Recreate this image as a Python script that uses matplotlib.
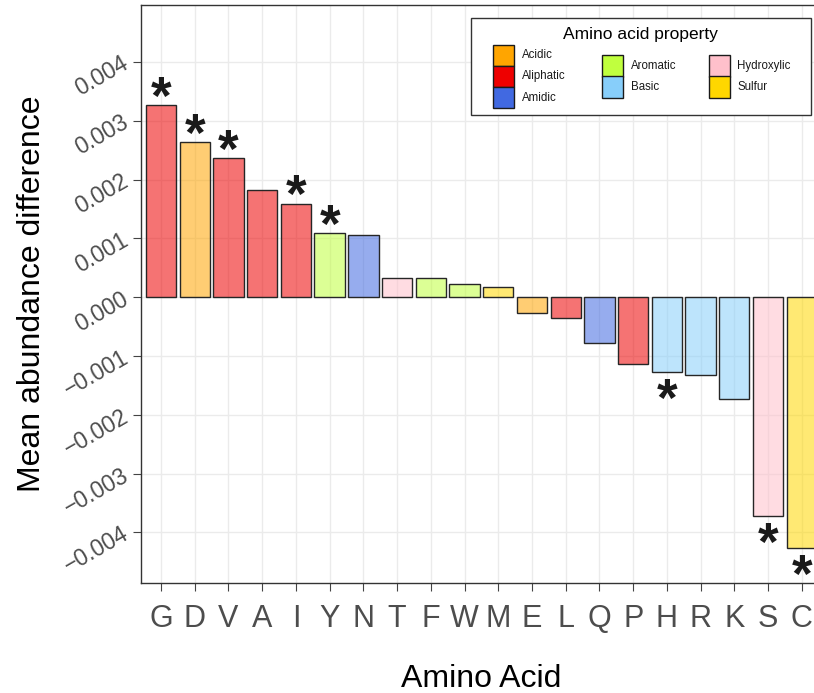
import matplotlib
matplotlib.use("Agg")
import matplotlib.pyplot as plt
from matplotlib.patches import Rectangle
from matplotlib.ticker import FixedLocator, FuncFormatter
from matplotlib.colors import to_rgba

# --- data -------------------------------------------------------------
amino_acids = ['G', 'D', 'V', 'A', 'I', 'Y', 'N', 'T', 'F', 'W',
               'M', 'E', 'L', 'Q', 'P', 'H', 'R', 'K', 'S', 'C']
mean_diff = [0.00327, 0.00264, 0.00236, 0.00182, 0.00159, 0.00109, 0.00106,
             0.00032, 0.00032, 0.00023, 0.00018, -0.00027, -0.00036, -0.00077,
             -0.00113, -0.00127, -0.00132, -0.00173, -0.00372, -0.00427]
aa_property = ['Aliphatic', 'Acidic', 'Aliphatic', 'Aliphatic', 'Aliphatic',
               'Aromatic', 'Amidic', 'Hydroxylic', 'Aromatic', 'Aromatic',
               'Sulfur', 'Acidic', 'Aliphatic', 'Amidic', 'Aliphatic',
               'Basic', 'Basic', 'Basic', 'Hydroxylic', 'Sulfur']
significant = [True, True, True, False, True, True, False, False, False, False,
               False, False, False, False, False, True, False, False, True, True]

properties = ['Acidic', 'Aliphatic', 'Amidic', 'Aromatic', 'Basic',
              'Hydroxylic', 'Sulfur']
property_colors = ['#FFA500', '#EE0000', '#4169E1', '#C0FF3E', '#87CEFA',
                   '#FFC0CB', '#FFD700']
y_ticks = [-0.004, -0.003, -0.002, -0.001, 0.0, 0.001, 0.002, 0.003, 0.004]

# --- figure -----------------------------------------------------------
W, H = 814, 693
fig = plt.figure(figsize=(W / 100, H / 100), dpi=100)
plt.rcParams['font.family'] = ['Liberation Sans', 'DejaVu Sans']

# panel runs slightly past the right edge of the canvas
left_px, right_px, top_px, bottom_px = 140.8, 822.0, 5.0, 583.0
ax = fig.add_axes([left_px / W, 1 - bottom_px / H,
                   (right_px - left_px) / W, (bottom_px - top_px) / H])

color_map = dict(zip(properties, property_colors))
x = list(range(1, len(amino_acids) + 1))
fill = [to_rgba(color_map[p], 0.55) for p in aa_property]

ax.bar(x, mean_diff, width=0.9, color=fill, edgecolor='#262626',
       linewidth=1.0, zorder=3)

# significance stars
star_size = 38
em_px = star_size * 100 / 72
for xi, v, sig in zip(x, mean_diff, significant):
    if not sig:
        continue
    if v >= 0:
        off = 16 - 0.465 * em_px
    else:
        off = -19.5 - 0.465 * em_px
    ax.annotate('*', xy=(xi, v), xytext=(0, off), textcoords='offset pixels',
                ha='center', va='baseline', fontsize=star_size,
                fontweight='bold', color='#1a1a1a', zorder=4)

ax.set_xlim(0.4, 20.6)
ax.set_ylim(-0.00486, 0.00497)
ax.set_xticks(x)
ax.set_xticklabels(amino_acids, fontsize=22, color='#4D4D4D')
ax.yaxis.set_major_locator(FixedLocator(y_ticks))
ax.yaxis.set_major_formatter(FuncFormatter(
    lambda v, p: ('\u2212' if v < -1e-12 else '') + f"{abs(v):.3f}"))
for lab in ax.get_yticklabels():
    lab.set_rotation(30)
    lab.set_rotation_mode('anchor')
    lab.set_ha('right')
    lab.set_va('center')
    lab.set_fontsize(16.5)
    lab.set_color('#4D4D4D')

ax.grid(True, color='#EBEBEB', linewidth=1.0, zorder=0)
ax.set_axisbelow(True)
for s in ax.spines.values():
    s.set_color('#333333')
    s.set_linewidth(1.0)
ax.tick_params(axis='both', length=6, width=0.8, color='#444444')
ax.tick_params(axis='x', pad=9)
ax.tick_params(axis='y', pad=4)

ax.set_ylabel('Mean abundance difference', fontsize=23, labelpad=9)
ax.set_xlabel('Amino Acid', fontsize=23, labelpad=22)

# --- legend (three centred columns) -----------------------------------
def fx(px):
    return px / W

def fy(py):
    return 1 - py / H

fig.add_artist(Rectangle((fx(471), fy(115)), fx(811) - fx(471),
                         fy(18) - fy(115), transform=fig.transFigure,
                         facecolor='white', edgecolor='#333333',
                         linewidth=1.0, zorder=10))
fig.text(fx(640), fy(35), 'Amino acid property', ha='center', va='center',
         fontsize=12.5, zorder=11)

columns = [properties[0:3], properties[3:5], properties[5:7]]
col_x = [493, 602, 709]
key_w, key_h = 20.5, 21.3
legend_mid = 76.5
for cx, col in zip(col_x, columns):
    top = legend_mid - key_h * len(col) / 2
    for k, name in enumerate(col):
        y0 = top + k * key_h
        fig.add_artist(Rectangle((fx(cx), fy(y0 + key_h)), key_w / W,
                                 key_h / H, transform=fig.transFigure,
                                 facecolor=color_map[name],
                                 edgecolor='#1a1a1a', linewidth=1.0,
                                 zorder=11))
        fig.text(fx(cx + key_w + 8), fy(y0 + key_h / 2), name, ha='left',
                 va='center', fontsize=8.3, color='#1a1a1a', zorder=11)

fig.savefig('out.png', dpi=100)
